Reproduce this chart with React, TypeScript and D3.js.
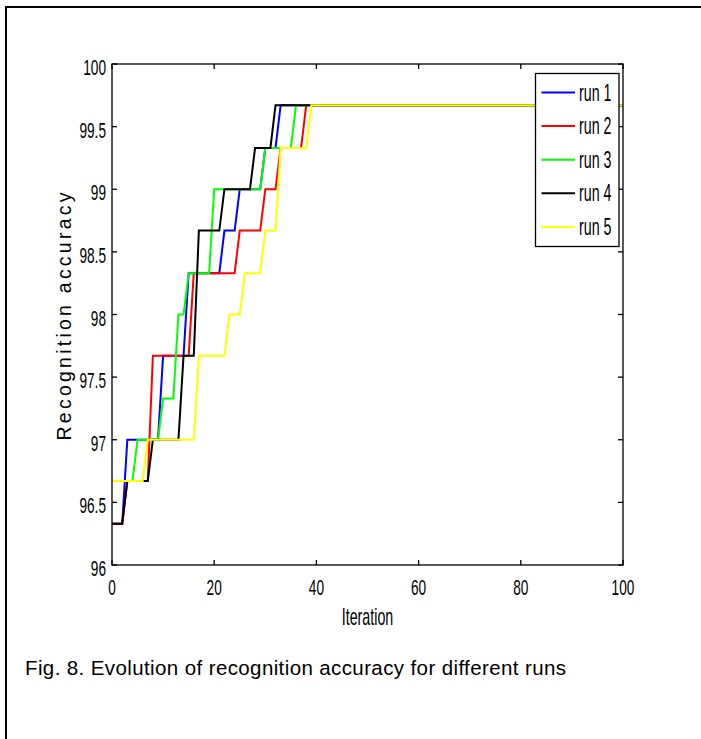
import React, { useRef, useEffect } from 'react';
import * as d3 from 'd3';

// polyline vertices [iteration, accuracy]
const run1 = [[0, 96.33], [2, 96.33], [3, 97], [9, 97], [10, 97.67], [14, 97.67], [15, 98.33], [21, 98.33], [22, 98.67], [24, 98.67], [25, 99], [29, 99], [30, 99.33], [32, 99.33], [33, 99.67], [100, 99.67]];
const run2 = [[0, 96.33], [2, 96.33], [3, 96.67], [7, 96.67], [8, 97.67], [15, 97.67], [16, 98.33], [24, 98.33], [25, 98.67], [29, 98.67], [30, 99], [32, 99], [33, 99.33], [37, 99.33], [38, 99.67], [100, 99.67]];
const run3 = [[0, 96.67], [4, 96.67], [5, 97], [9, 97], [10, 97.33], [12, 97.33], [13, 98], [14, 98], [15, 98.33], [19, 98.33], [20, 99], [29, 99], [30, 99.33], [35, 99.33], [36, 99.67], [100, 99.67]];
const run4 = [[0, 96.33], [2, 96.33], [3, 96.67], [7, 96.67], [8, 97], [13, 97], [14, 97.67], [16, 97.67], [17, 98.67], [21, 98.67], [22, 99], [27, 99], [28, 99.33], [31, 99.33], [32, 99.67], [100, 99.67]];
const run5 = [[0, 96.67], [6, 96.67], [7, 97], [16, 97], [17, 97.67], [22, 97.67], [23, 98], [25, 98], [26, 98.33], [29, 98.33], [30, 98.67], [32, 98.67], [33, 99.33], [38, 99.33], [39, 99.67], [100, 99.67]];

const runNames = ['run 1', 'run 2', 'run 3', 'run 4', 'run 5'];
const runColors = ['#0000ff', '#ff0000', '#00ff00', '#000000', '#ffff00'];
const xTicks = [0, 20, 40, 60, 80, 100];
const yTicks = [96, 96.5, 97, 97.5, 98, 98.5, 99, 99.5, 100];
const yTickLabels = ['96', '96.5', '97', '97.5', '98', '98.5', '99', '99.5', '100'];

const FONT = '"Liberation Sans", Arial, sans-serif';
const NARROW = 0.62;

const App = () => {
  const svgRef = useRef(null);

  useEffect(() => {
    const svg = d3.select(svgRef.current);
    svg.selectAll('*').remove();

    const x = d3.scaleLinear().domain([0, 100]).range([112, 623]);
    const y = d3.scaleLinear().domain([96, 100]).range([565, 64]);
    const tick = 5;

    // outer frame (only left and top edges fall inside the picture)
    svg.append('path')
      .attr('d', 'M6,760 L6,7 L760,7')
      .attr('fill', 'none')
      .attr('stroke', '#000')
      .attr('stroke-width', 2);

    // lines
    const line = d3.line().x(d => x(d[0])).y(d => y(d[1]));
    [run1, run2, run3, run4, run5].forEach((r, i) => {
      svg.append('path')
        .attr('d', line(r))
        .attr('fill', 'none')
        .attr('stroke', runColors[i])
        .attr('stroke-width', 2);
    });

    // axes box + inward ticks
    const ax = svg.append('g').attr('stroke', '#000').attr('stroke-width', 1.3);
    ax.append('rect')
      .attr('x', x(0)).attr('y', y(100))
      .attr('width', x(100) - x(0)).attr('height', y(96) - y(100))
      .attr('fill', 'none');
    xTicks.forEach(t => {
      ax.append('line').attr('x1', x(t)).attr('x2', x(t)).attr('y1', y(96)).attr('y2', y(96) - tick);
      ax.append('line').attr('x1', x(t)).attr('x2', x(t)).attr('y1', y(100)).attr('y2', y(100) + tick);
    });
    yTicks.forEach(t => {
      ax.append('line').attr('x1', x(0)).attr('x2', x(0) + tick).attr('y1', y(t)).attr('y2', y(t));
      ax.append('line').attr('x1', x(100)).attr('x2', x(100) - tick).attr('y1', y(t)).attr('y2', y(t));
    });

    const narrowText = (tx, ty, str, anchor, size = 22) =>
      svg.append('text')
        .attr('transform', `translate(${tx},${ty}) scale(${NARROW},1)`)
        .attr('text-anchor', anchor)
        .attr('font-family', FONT)
        .attr('font-size', size)
        .attr('fill', '#000')
        .text(str);

    xTicks.forEach(t => narrowText(x(t), 595, String(t), 'middle'));
    yTicks.forEach((t, i) => narrowText(x(0) - 6, y(t) + 11, yTickLabels[i], 'end'));

    narrowText((x(0) + x(100)) / 2, 625, 'Iteration', 'middle', 23);

    svg.append('text')
      .attr('transform', `translate(71,${(y(96) + y(100)) / 2 + 2}) rotate(-90)`)
      .attr('text-anchor', 'middle')
      .attr('font-family', FONT)
      .attr('font-size', 19.5)
      .attr('textLength', 248)
      .attr('lengthAdjust', 'spacing')
      .text('Recognition accuracy');

    // legend
    const lg = svg.append('g');
    lg.append('rect')
      .attr('x', 535.5).attr('y', 73.5)
      .attr('width', 83.5).attr('height', 173)
      .attr('fill', '#fff')
      .attr('stroke', '#000')
      .attr('stroke-width', 1.3);
    runNames.forEach((name, i) => {
      const ly = 92.5 + i * 33.6;
      lg.append('line')
        .attr('x1', 541.5).attr('x2', 575)
        .attr('y1', ly).attr('y2', ly)
        .attr('stroke', runColors[i])
        .attr('stroke-width', 2);
      narrowText(579, ly + 8, name, 'start', 23);
    });

    svg.append('text')
      .attr('x', 25)
      .attr('y', 675)
      .attr('font-family', FONT)
      .attr('font-size', 20.5)
      .attr('textLength', 541)
      .attr('lengthAdjust', 'spacing')
      .text('Fig. 8. Evolution of recognition accuracy for different runs');
  }, []);

  return (
    <svg
      ref={svgRef}
      width={701}
      height={739}
      style={{ position: 'absolute', left: 0, top: 0, background: '#fff' }}
    />
  );
};

export default App;
